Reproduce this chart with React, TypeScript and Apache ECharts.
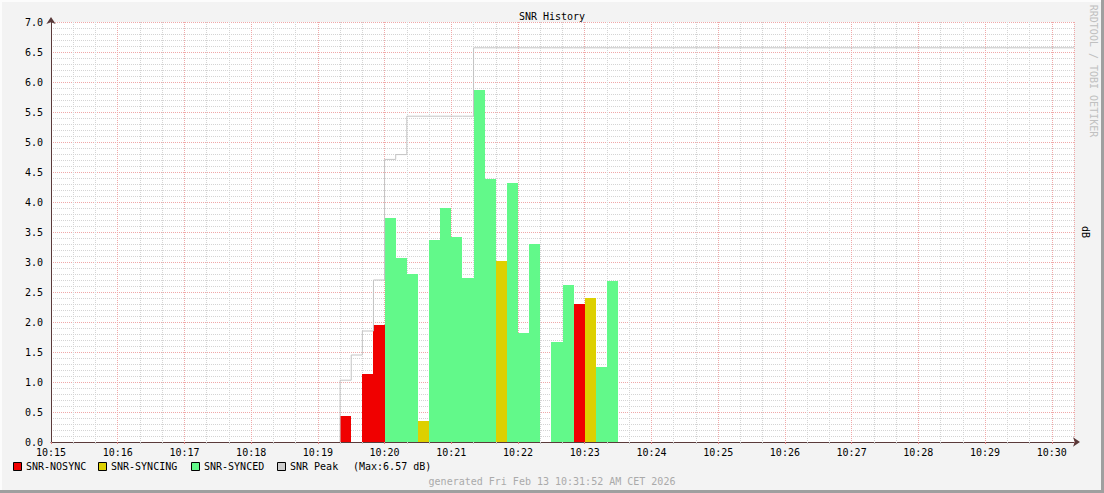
import React, { useEffect, useRef } from "react";
import * as echarts from "echarts";

// ---- data ----
const AXIS_START = "10:15:00";
const AXIS_END = "10:30:20";
const STEP_SECONDS = 10;

const stepTimes = [
  "10:19:20", "10:19:30", "10:19:40", "10:19:50", "10:20:00", "10:20:10", "10:20:20",
  "10:20:30", "10:20:40", "10:20:50", "10:21:00", "10:21:10", "10:21:20", "10:21:30",
  "10:21:40", "10:21:50", "10:22:00", "10:22:10", "10:22:20", "10:22:30", "10:22:40",
  "10:22:50", "10:23:00", "10:23:10", "10:23:20",
];
const syncStates = [
  "NOSYNC", "", "NOSYNC", "NOSYNC", "SYNCED", "SYNCED", "SYNCED",
  "SYNCING", "SYNCED", "SYNCED", "SYNCED", "SYNCED", "SYNCED", "SYNCED",
  "SYNCING", "SYNCED", "SYNCED", "SYNCED", "", "SYNCED", "SYNCED",
  "NOSYNC", "SYNCING", "SYNCED", "SYNCED",
];
const snrValues: (number | null)[] = [
  0.43, null, 1.13, 1.95, 3.73, 3.07, 2.8,
  0.35, 3.36, 3.9, 3.42, 2.74, 5.86, 4.38,
  3.02, 4.32, 1.81, 3.3, null, 1.67, 2.62,
  2.3, 2.4, 1.25, 2.68,
];
const peakValues = [
  1.03, 1.45, 1.85, 2.7, 4.71, 4.79, 5.43,
  5.43, 5.43, 5.43, 5.43, 5.43, 6.57, 6.57,
  6.57, 6.57, 6.57, 6.57, 6.57, 6.57, 6.57,
  6.57, 6.57, 6.57, 6.57,
];
const yTicks = { min: 0, max: 7, interval: 0.5 };
const categories = [
  { key: "NOSYNC", label: "SNR-NOSYNC", color: "#f00000" },
  { key: "SYNCING", label: "SNR-SYNCING", color: "#ddd000" },
  { key: "SYNCED", label: "SNR-SYNCED", color: "#62f98a" },
];
const peakLabel = "SNR Peak";
const peakColor = "#c4c4c4";
const titleText = "SNR History";
const footerText = "generated Fri Feb 13 10:31:52 AM CET 2026";
const watermark = "RRDTOOL / TOBI OETIKER";
const unitText = "dB";

const toSec = (s: string) => {
  const [h, m, sec] = s.split(":").map(Number);
  const [h0, m0, s0] = AXIS_START.split(":").map(Number);
  return h * 3600 + m * 60 + sec - (h0 * 3600 + m0 * 60 + s0);
};
const fmtTime = (v: number) => {
  const [h0, m0] = AXIS_START.split(":").map(Number);
  const total = h0 * 60 + m0 + Math.round(v / 60);
  return `${Math.floor(total / 60)}:${String(total % 60).padStart(2, "0")}`;
};

const FONT = "DejaVu Sans Mono";

export default function App() {
  const ref = useRef<HTMLDivElement>(null);
  useEffect(() => {
    if (!ref.current) return;
    const chart = echarts.init(ref.current, undefined, { renderer: "svg" });
    const xMax = toSec(AXIS_END);

    const barSeries = categories.map((c) => ({
      type: "custom",
      name: c.label,
      encode: { x: 0, y: 1 },
      clip: true,
      z: 3,
      data: stepTimes
        .map((t, i) => (syncStates[i] === c.key && snrValues[i] != null ? [toSec(t), snrValues[i]] : null))
        .filter((d) => d),
      renderItem: (_p: any, api: any) => {
        const t = api.value(0);
        const v = api.value(1);
        const p0 = api.coord([t, v]);
        const p1 = api.coord([t + STEP_SECONDS, 0]);
        const x0 = Math.round(p0[0]);
        const x1 = Math.round(p1[0]);
        const y0 = Math.round(p0[1]);
        const y1 = Math.round(p1[1]);
        return {
          type: "rect",
          shape: { x: x0, y: y0, width: x1 - x0, height: y1 - y0 },
          style: { fill: c.color },
        };
      },
    }));

    const peakData: number[][] = [[toSec(stepTimes[0]), 0]];
    stepTimes.forEach((t, i) => {
      peakData.push([toSec(t), peakValues[i]]);
      peakData.push([toSec(t) + STEP_SECONDS, peakValues[i]]);
    });
    peakData.push([xMax, peakValues[peakValues.length - 1]]);
    const peakMax = Math.max(...peakValues);

    const legendGraphics: any[] = [];
    const legendX = [13, 98, 191, 277];
    [...categories.map((c) => ({ label: c.label, color: c.color })), { label: peakLabel, color: "#cccccc" }].forEach(
      (it, i) => {
        legendGraphics.push({
          type: "rect",
          left: legendX[i],
          top: 462,
          shape: { width: 8, height: 8 },
          style: { fill: it.color, stroke: "#000", lineWidth: 1 },
        });
        legendGraphics.push({
          type: "text",
          left: legendX[i] + 13,
          top: 461,
          style: { text: it.label, font: `10px '${FONT}'`, fill: "#000" },
        });
      }
    );
    legendGraphics.push({
      type: "text",
      left: 353,
      top: 461,
      style: { text: `(Max:${peakMax.toFixed(2)} ${unitText})`, font: `10px '${FONT}'`, fill: "#000" },
    });

    chart.setOption({
      animation: false,
      backgroundColor: "#f3f3f3",
      grid: {
        left: 51,
        right: 30,
        top: 22,
        bottom: 51,
        show: true,
        backgroundColor: "#ffffff",
        borderWidth: 0,
      },
      xAxis: {
        type: "value",
        min: 0,
        max: xMax,
        interval: 60,
        axisLine: {
          show: true,
          lineStyle: { color: "#5a3a3a", width: 1 },
          symbol: ["none", "arrow"],
          symbolSize: [7, 7],
          symbolOffset: [0, 6],
        },
        axisTick: { show: true, length: 2, lineStyle: { color: "#e08080" } },
        minorTick: { show: true, splitNumber: 3, length: 2, lineStyle: { color: "#c8c8c8" } },
        axisLabel: {
          showMaxLabel: false,
          formatter: (v: number) => fmtTime(v),
          fontFamily: FONT,
          fontSize: 10,
          color: "#000",
          margin: 5,
        },
        splitLine: { show: true, lineStyle: { color: "#f0a8a8", type: [1, 1], width: 1 } },
        minorSplitLine: { show: true, lineStyle: { color: "#d4d4d4", type: [1, 1], width: 1 } },
      },
      yAxis: {
        type: "value",
        min: yTicks.min,
        max: yTicks.max,
        interval: yTicks.interval,
        axisLine: {
          show: true,
          lineStyle: { color: "#5a3a3a", width: 1 },
          symbol: ["none", "arrow"],
          symbolSize: [7, 7],
          symbolOffset: [0, 5],
        },
        axisTick: { show: false },
        minorTick: { show: false, splitNumber: 5 },
        axisLabel: {
          formatter: (v: number) => v.toFixed(1),
          fontFamily: FONT,
          fontSize: 10,
          color: "#000",
          margin: 8,
        },
        splitLine: { show: true, lineStyle: { color: "#f0a8a8", type: [1, 1], width: 1 } },
        minorSplitLine: { show: true, lineStyle: { color: "#d4d4d4", type: [1, 1], width: 1 } },
      },
      series: [
        ...barSeries,
        {
          type: "line",
          name: peakLabel,
          data: peakData,
          showSymbol: false,
          symbol: "none",
          z: 4,
          lineStyle: { color: peakColor, width: 1 },
        },
      ],
      graphic: [
        { type: "rect", left: 0, top: 0, shape: { width: 1104, height: 2 }, style: { fill: "#fcfcfc" } },
        { type: "rect", left: 0, top: 0, shape: { width: 2, height: 493 }, style: { fill: "#fcfcfc" } },
        { type: "rect", left: 0, top: 490, shape: { width: 1104, height: 3 }, style: { fill: "#9f9f9f" } },
        { type: "rect", left: 1101, top: 0, shape: { width: 3, height: 493 }, style: { fill: "#9f9f9f" } },
        {
          type: "text",
          x: 552,
          y: 16,
          style: { text: titleText, font: `10px '${FONT}'`, fill: "#000", align: "center", verticalAlign: "middle" },
        },
        {
          type: "text",
          x: 552,
          y: 481,
          style: { text: footerText, font: `10px '${FONT}'`, fill: "#aaaaaa", align: "center", verticalAlign: "middle" },
        },
        {
          type: "text",
          x: 1093,
          y: 71,
          rotation: -Math.PI / 2,
          style: { text: watermark, font: `10px '${FONT}'`, fill: "#c0c0c0", align: "center", verticalAlign: "middle" },
        },
        {
          type: "text",
          x: 1085,
          y: 232,
          rotation: -Math.PI / 2,
          style: { text: unitText, font: `10px '${FONT}'`, fill: "#000", align: "center", verticalAlign: "middle" },
        },
        ...legendGraphics,
      ],
    });
    return () => chart.dispose();
  }, []);
  return (
    <div
      ref={ref}
      style={{ position: "fixed", left: 0, top: 0, width: 1104, height: 493 }}
    />
  );
}
